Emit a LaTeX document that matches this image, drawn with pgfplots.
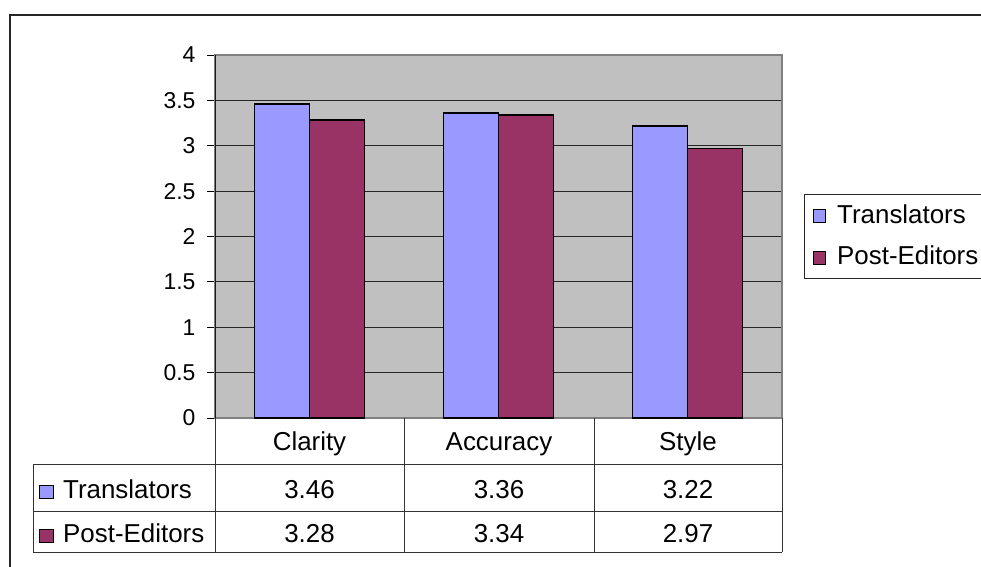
\documentclass[border=0pt]{standalone}
\usepackage{pgfplots}
\pgfplotsset{compat=1.18}
\usepackage{pgfplotstable}
\usepackage{fontspec}
\setmainfont{Liberation Sans}

\definecolor{transl}{HTML}{9999FF}
\definecolor{posted}{HTML}{993366}
\definecolor{plotbg}{HTML}{C0C0C0}
\definecolor{framegray}{HTML}{808080}

% mean ratings per criterion
\pgfplotstableread{
idx Translators PostEditors
0 3.46 3.28
1 3.36 3.34
2 3.22 2.97
}\scores

\newcommand\bigfont{\fontsize{26}{31}\selectfont}
\newcommand\tickfont{\fontsize{23}{27}\selectfont}

\begin{document}
\begin{tikzpicture}[x=1bp,y=-1bp]
\useasboundingbox (0,0) rectangle (981,567);
% chart area border
\draw[line width=1.3bp, black!85] (10,15) rectangle (1100,700);

\begin{axis}[
  at={(215bp,-418bp)}, anchor=south west,
  scale only axis, width=567bp, height=363bp,
  xmin=-0.5, xmax=2.5, ymin=0, ymax=4,
  ytick distance=0.5, xtick=\empty, ytick pos=left,
  ymajorgrids, grid style={black!85, line width=1bp},
  axis background/.style={fill=plotbg},
  axis line style={draw=framegray, line width=1.5bp},
  ybar=0pt, bar width=55bp,
  tick align=outside, major tick length=8bp,
  tick style={black, line width=0.9bp},
  yticklabel style={font=\tickfont, xshift=-8bp},
  /pgf/number format/assume math mode=true,
  /pgf/number format/fixed,
  every axis plot/.append style={draw=black, line width=1.8bp},
]
\addplot[fill=transl] table[x=idx, y=Translators]{\scores};
\addplot[fill=posted] table[x=idx, y=PostEditors]{\scores};
\draw[black!90, line width=1.5bp] (rel axis cs:0,0) -- (rel axis cs:0,1);
\end{axis}

% data table under the plot
\tikzset{tbl/.style={line width=1bp, black!80}}
\foreach \xx in {215,404,594,782} \draw[tbl] (\xx,418) -- (\xx,552);
\draw[tbl] (33,464) -- (33,552);
\foreach \yy in {464,511,552} \draw[tbl] (33,\yy) -- (782,\yy);

\node[anchor=base, font=\bigfont, inner sep=0] at (309.5,450) {Clarity};
\node[anchor=base, font=\bigfont, inner sep=0] at (499,450) {Accuracy};
\node[anchor=base, font=\bigfont, inner sep=0] at (688,450) {Style};

\foreach \i/\cx in {0/309.5,1/499,2/688} {
  \pgfplotstablegetelem{\i}{Translators}\of\scores
  \node[anchor=base, font=\bigfont, inner sep=0] at (\cx,498) {\pgfplotsretval};
  \pgfplotstablegetelem{\i}{PostEditors}\of\scores
  \node[anchor=base, font=\bigfont, inner sep=0] at (\cx,542) {\pgfplotsretval};
}

\draw[black, line width=1bp, fill=transl] (39,485) rectangle (53,498);
\node[anchor=base west, font=\bigfont, inner sep=0] at (63,498) {Translators};
\draw[black, line width=1bp, fill=posted] (39,529) rectangle (53,542);
\node[anchor=base west, font=\bigfont, inner sep=0] at (63,542) {Post-Editors};

% legend
\draw[line width=1bp, black!85, fill=white] (804,195) rectangle (1100,278);
\draw[black, line width=1bp, fill=transl] (813,210) rectangle (825,223);
\node[anchor=base west, font=\bigfont, inner sep=0] at (837,224) {Translators};
\draw[black, line width=1bp, fill=posted] (813,252) rectangle (825,264);
\node[anchor=base west, font=\bigfont, inner sep=0] at (837,265) {Post-Editors};
\end{tikzpicture}
\end{document}
